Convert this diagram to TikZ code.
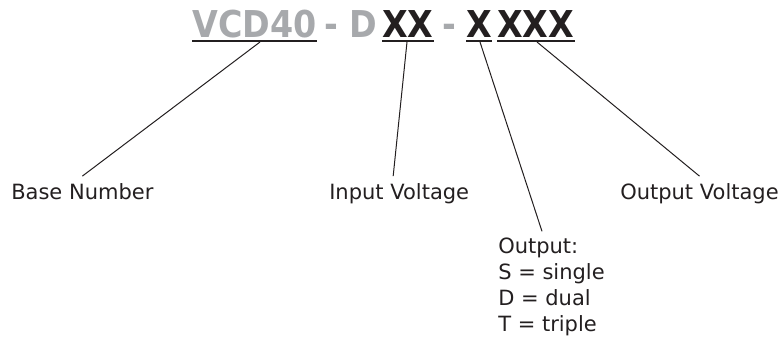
\documentclass[tikz,border=0pt]{standalone}
\usepackage{fontspec}
\setmainfont{DejaVu Sans}
\newfontfamily\titlefont{DejaVu Sans Condensed}
\usetikzlibrary{positioning}
\definecolor{codegray}{HTML}{A7A9AC}
\definecolor{ink}{HTML}{231F20}
\tikzset{
  code/.style={inner sep=0pt, anchor=base west, font=\titlefont\bfseries\fontsize{27.75}{30}\selectfont},
  fixed/.style={code, text=codegray},
  free/.style={code, text=ink},
  label/.style={inner sep=0pt, anchor=base west, text=ink, font=\fontsize{15.75}{19.3}\selectfont},
  uline/.style={draw=ink, line width=1.1pt},
  lead/.style={draw=ink, line width=0.75pt}
}
\begin{document}
\begin{tikzpicture}[x=0.75pt, y=-0.75pt]
  \useasboundingbox (0,0) rectangle (782,337);
  % part number
  \node[fixed] (vcd) at (192,37) {VCD40};
  \node[fixed] (sep1) at (324,37) {- D};
  \node[free] (xx) at (382,37) {XX};
  \node[fixed] (sep2) at (442,37) {-};
  \node[free] (x) at (466,37) {X};
  \node[free] (xxx) at (497,37) {XXX};
  % underlines
  \draw[uline] ([yshift=-3pt]vcd.base west) -- ([yshift=-3pt]vcd.base east);
  \draw[uline] ([yshift=-3pt]xx.base west) -- ([yshift=-3pt]xx.base east);
  \draw[uline] ([yshift=-3pt]x.base west) -- ([yshift=-3pt]x.base east);
  \draw[uline] ([yshift=-3pt]xxx.base west) -- ([yshift=-3pt]xxx.base east);
  \coordinate (vcdpt) at (260,42);
  \coordinate (xxpt) at (407,42);
  \coordinate (xpt) at (480,42);
  \coordinate (xxxpt) at (537,42);
  % labels
  \node[label] (base) at (11,199) {Base Number};
  \node[label] (input) at (329,199) {Input Voltage};
  \node[label] (output) at (620,199) {Output Voltage};
  \node[label, align=left, anchor=north west] (kind) at (498,238) {Output:\\S = single\\D = dual\\T = triple};
  % leaders
  \draw[lead] (vcdpt) -- ([yshift=5pt]base.north);
  \draw[lead] (xxpt) -- ([xshift=-4.5pt, yshift=5pt]input.north);
  \draw[lead] (xpt) -- ([yshift=5pt]kind.north -| 542,0);
  \draw[lead] (xxxpt) -- ([yshift=5pt]output.north);
\end{tikzpicture}
\end{document}
